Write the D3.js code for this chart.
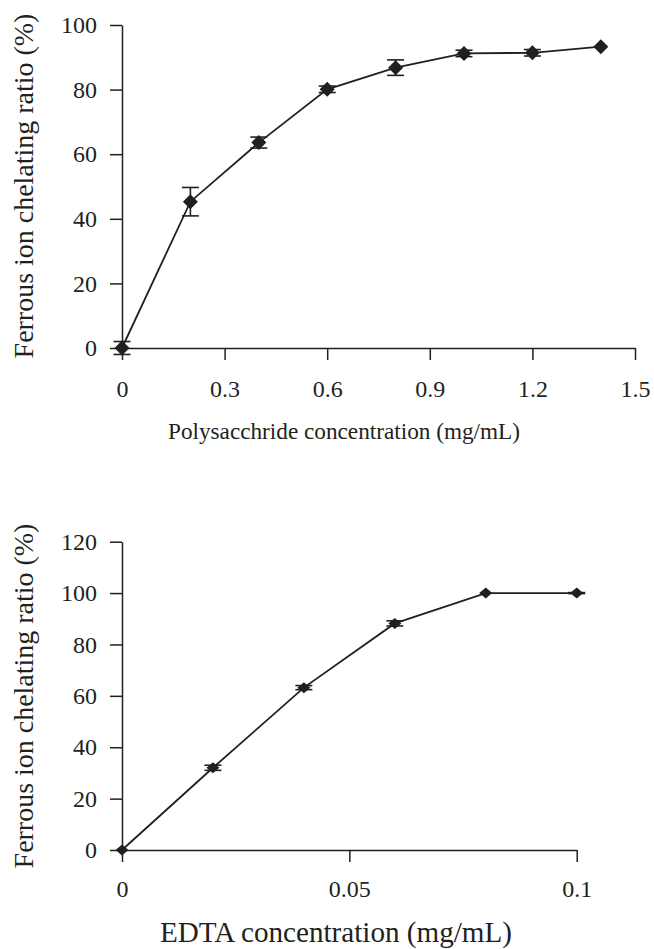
<!DOCTYPE html>
<html>
<head>
<meta charset="utf-8">
<script src="https://cdn.jsdelivr.net/npm/d3@7"></script>
<style>
  body { margin: 0; background: #fff; }
  svg text { font-family: "Liberation Serif", "DejaVu Serif", serif; fill: #231f20; }
</style>
</head>
<body>
<div id="chart"></div>
<script>
// Top panel: polysaccharide
const polyConc = [0, 0.2, 0.4, 0.6, 0.8, 1.0, 1.2, 1.4];
const polyRatio = [0, 45.3, 63.6, 80.1, 86.8, 91.2, 91.4, 93.3];
const polyErr = [2.0, 4.4, 1.7, 1.0, 2.4, 1.0, 1.0, null];
const polyXTicks = [0, 0.3, 0.6, 0.9, 1.2, 1.5];
const polyYTicks = [0, 20, 40, 60, 80, 100];

// Bottom panel: EDTA
const edtaConc = [0, 0.02, 0.04, 0.06, 0.08, 0.1];
const edtaRatio = [0, 32.0, 63.2, 88.2, 100, 100];
const edtaErr = [null, 1.0, 0.8, 1.0, null, 0.2];
const edtaXTicks = [0, 0.05, 0.1];
const edtaYTicks = [0, 20, 40, 60, 80, 100, 120];

const yTitle = "Ferrous ion chelating ratio (%)";

const W = 654, H = 949;
const ink = "#231f20";

const svg = d3.select("#chart").append("svg")
    .attr("width", W)
    .attr("height", H);

// size a title so it spans the same width as in the picture
function fitText(sel, width) {
    const base = 24;
    sel.style("font-size", base + "px");
    const len = sel.node().getComputedTextLength();
    sel.style("font-size", (base * width / len).toFixed(2) + "px");
}

function drawPanel(opts) {
    const xScale = d3.scaleLinear().domain(opts.xDomain).range(opts.xRange);
    const yScale = d3.scaleLinear().domain(opts.yDomain).range(opts.yRange);
    const g = svg.append("g");

    const data = opts.x.map((v, i) => ({ x: v, y: opts.y[i], e: opts.err[i] }));

    // axes
    const xAxis = g.append("g")
        .attr("transform", `translate(0,${opts.yRange[0]})`)
        .call(d3.axisBottom(xScale)
            .tickValues(opts.xTicks)
            .tickFormat(d => String(d))
            .tickSize(12)
            .tickSizeOuter(0)
            .tickPadding(opts.xPad));
    const yAxis = g.append("g")
        .attr("transform", `translate(${opts.xRange[0]},0)`)
        .call(d3.axisLeft(yScale)
            .tickValues(opts.yTicks)
            .tickSize(12)
            .tickSizeOuter(0)
            .tickPadding(13));

    [xAxis, yAxis].forEach(ax => {
        ax.attr("font-family", null).attr("font-size", null);
        ax.selectAll("path, line").attr("stroke", ink).attr("stroke-width", 1.5);
        ax.selectAll("text").style("font-size", "24px");
    });

    // line
    const line = d3.line().x(d => xScale(d.x)).y(d => yScale(d.y));
    g.append("path")
        .datum(data)
        .attr("fill", "none")
        .attr("stroke", ink)
        .attr("stroke-width", 1.8)
        .attr("d", line);

    // error bars
    const eb = g.selectAll(".err")
        .data(data.filter(d => d.e !== null))
        .enter().append("g")
        .attr("stroke", ink)
        .attr("stroke-width", 1.6);
    eb.append("line")
        .attr("x1", d => xScale(d.x)).attr("x2", d => xScale(d.x))
        .attr("y1", d => yScale(d.y - d.e)).attr("y2", d => yScale(d.y + d.e));
    [-1, 1].forEach(s => {
        eb.append("line")
            .attr("x1", d => xScale(d.x) - opts.cap).attr("x2", d => xScale(d.x) + opts.cap)
            .attr("y1", d => yScale(d.y + s * d.e)).attr("y2", d => yScale(d.y + s * d.e));
    });

    // diamond markers
    const mw = opts.markerW, mh = opts.markerH;
    g.selectAll(".pt")
        .data(data)
        .enter().append("path")
        .attr("d", d => {
            const cx = xScale(d.x), cy = yScale(d.y);
            return `M${cx},${cy - mh}L${cx + mw},${cy}L${cx},${cy + mh}L${cx - mw},${cy}Z`;
        })
        .attr("fill", ink);

    // titles
    const yt = g.append("text")
        .attr("transform", `translate(${opts.yTitleX},${opts.yTitleY}) rotate(-90)`)
        .attr("text-anchor", "middle")
        .text(yTitle);
    fitText(yt, 345);

    const xt = g.append("text")
        .attr("x", opts.xTitleX)
        .attr("y", opts.xTitleY)
        .attr("text-anchor", "middle")
        .text(opts.xTitle);
    fitText(xt, opts.xTitleW);
}

drawPanel({
    x: polyConc, y: polyRatio, err: polyErr,
    xDomain: [0, 1.5], xRange: [122, 635],
    yDomain: [0, 100], yRange: [348, 25],
    xTicks: polyXTicks, yTicks: polyYTicks, xPad: 20,
    cap: 8.5, markerW: 7.5, markerH: 7.5,
    yTitleX: 33, yTitleY: 186,
    xTitleX: 344, xTitleY: 439, xTitleW: 352,
    xTitle: "Polysacchride concentration (mg/mL)"
});

drawPanel({
    x: edtaConc, y: edtaRatio, err: edtaErr,
    xDomain: [0, 0.1], xRange: [122, 576.7],
    yDomain: [0, 120], yRange: [850, 541.7],
    xTicks: edtaXTicks, yTicks: edtaYTicks, xPad: 18,
    cap: 8.5, markerW: 6.5, markerH: 5.5,
    yTitleX: 33, yTitleY: 696,
    xTitleX: 336, xTitleY: 942, xTitleW: 352,
    xTitle: "EDTA concentration (mg/mL)"
});
</script>
</body>
</html>
